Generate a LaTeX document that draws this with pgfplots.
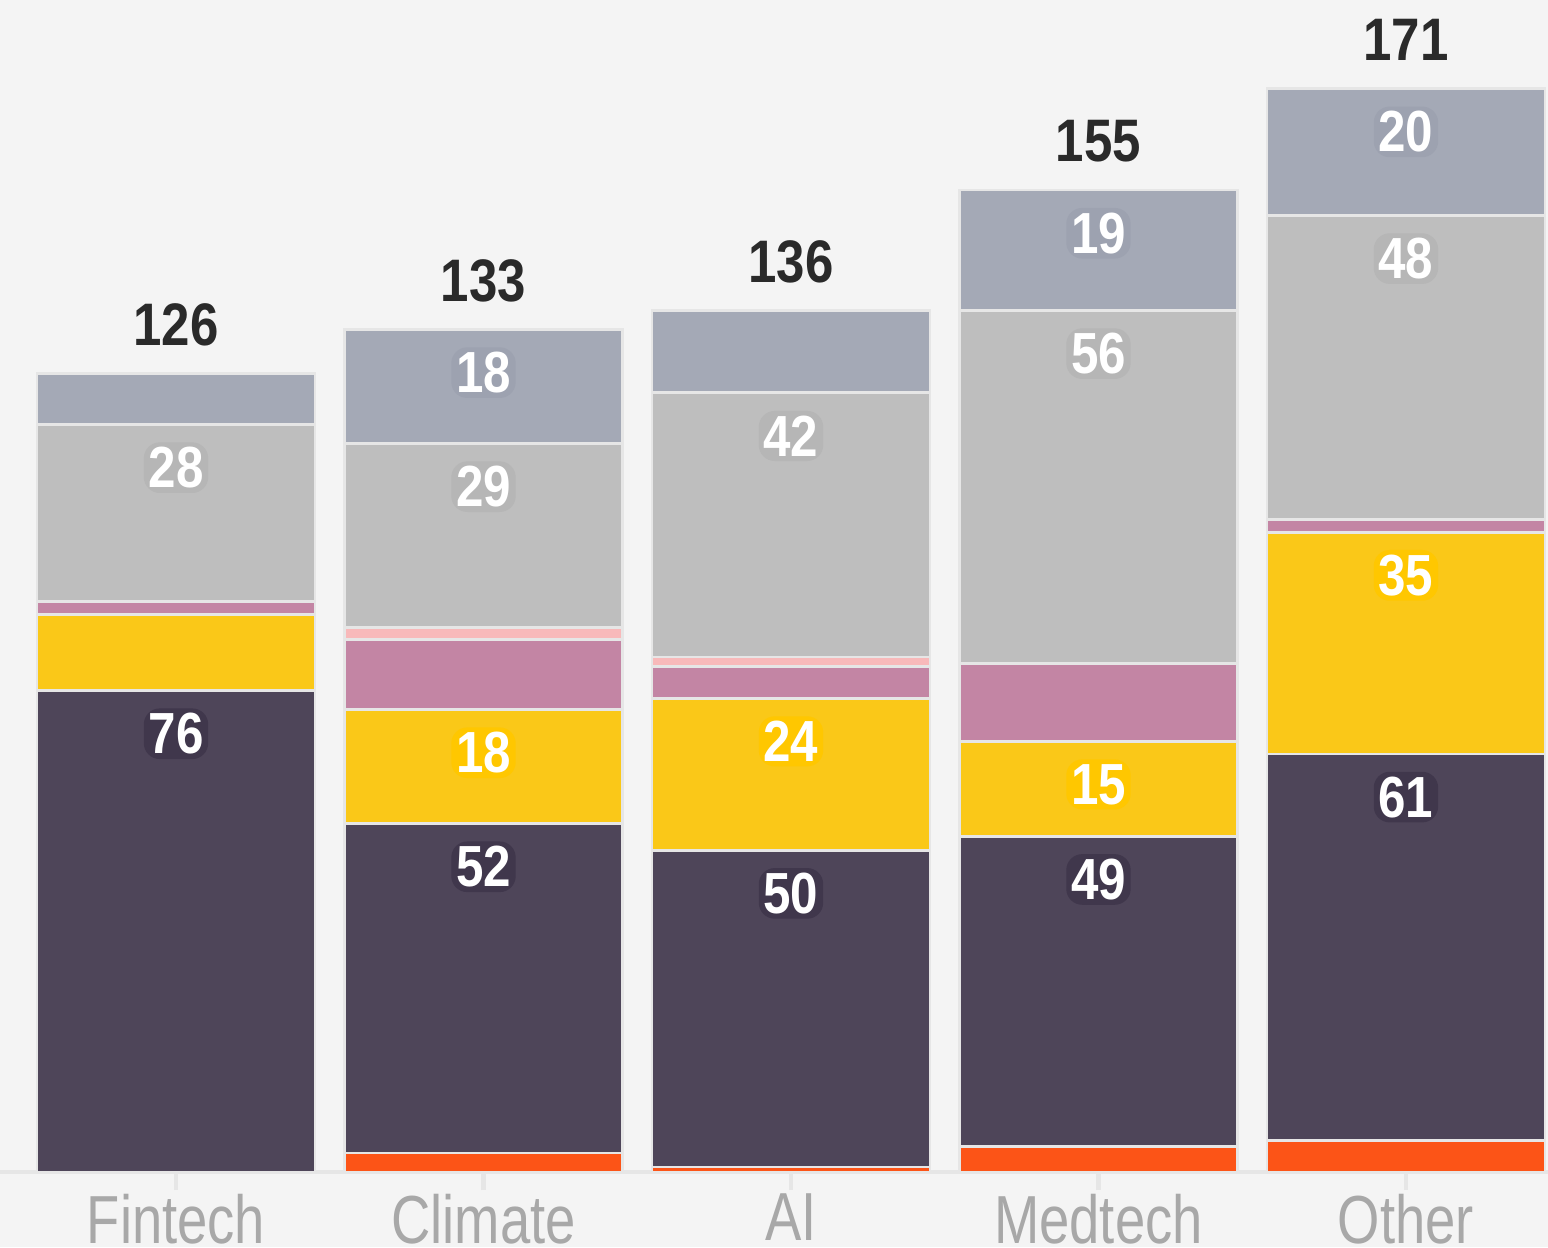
\documentclass[border=0pt]{standalone}
\usepackage{pgfplots}
\pgfplotsset{compat=1.18}
\usepackage{fontspec}
\setmainfont{Liberation Sans}[FakeStretch=0.85]
\newfontfamily\tickfont{Liberation Sans}[FakeStretch=0.8]
\definecolor{bg}{HTML}{F4F4F4}
\definecolor{cOrange}{HTML}{FC5417}
\definecolor{cDark}{HTML}{4E4559}
\definecolor{cYellow}{HTML}{FAC818}
\definecolor{cMauve}{HTML}{C385A4}
\definecolor{cPink}{HTML}{F8B9BA}
\definecolor{cGray}{HTML}{BEBEBE}
\definecolor{cBlue}{HTML}{A4A9B6}
\definecolor{hDark}{HTML}{40374C}
\definecolor{hYellow}{HTML}{FFC700}
\definecolor{hGray}{HTML}{B6B6B6}
\definecolor{hBlue}{HTML}{9DA2B0}
\definecolor{sepline}{HTML}{E6E6E6}
\definecolor{labgray}{HTML}{A8A8A8}
\definecolor{totcol}{HTML}{2A2A2A}

\pgfplotsset{
  frame/.style={at={(0,0)}, anchor=south west,
    scale only axis, width=387pt, height=293pt,
    xmin=-0.5724, xmax=4.462, ymin=0, ymax=185, clip=false},
  seg/.style={fill=#1, draw=sepline, line width=0.7pt},
  lab/.style={only marks, mark=none, nodes near coords, point meta=explicit symbolic,
    every node near coord/.append style={font=\bfseries\fontsize{14.5}{14.5}\selectfont,
      text=white, fill=#1, rounded corners=4pt, inner sep=1.2pt,
      anchor=center, yshift=-10.8pt}},
}

\begin{document}
\begin{tikzpicture}[x=1pt,y=1pt]
\fill[bg] (0,-18.75) rectangle (387,293);
% stacked bars
\begin{axis}[
  frame,
  ybar stacked, bar width=69.5pt,
  axis y line=none, axis x line*=bottom,
  x axis line style={draw=sepline, line width=0.8pt, -},
  xtick={0,1,2,3,4},
  xticklabels={Fintech,Climate,AI,Medtech,Other},
  major tick length=4.5pt, tick align=outside,
  x tick style={draw=sepline, line width=1.2pt},
  xticklabel style={font=\tickfont\fontsize{17}{17}\selectfont, text=labgray, yshift=2.5pt},
]
\addplot[seg=cOrange] coordinates {(0,0) (1,3) (2,0.8) (3,4) (4,5)};
\addplot[seg=cDark]   coordinates {(0,76) (1,52) (2,50) (3,49) (4,61)};
\addplot[seg=cYellow] coordinates {(0,12) (1,18) (2,24) (3,15) (4,35)};
\addplot[seg=cMauve]  coordinates {(0,2) (1,11) (2,5) (3,12.3) (4,2)};
\addplot[seg=cPink]   coordinates {(0,0) (1,2) (2,1.5) (3,0) (4,0)};
\addplot[seg=cGray]   coordinates {(0,28) (1,29) (2,41.7) (3,55.7) (4,48)};
\addplot[seg=cBlue]   coordinates {(0,8) (1,18) (2,13) (3,19) (4,20)};
\end{axis}
% labels at the top of each segment
\begin{axis}[frame, hide axis]
\addplot[lab=hDark]   coordinates {(0,76) [76] (1,55) [52] (2,50.8) [50] (3,53) [49] (4,66) [61]};
\addplot[lab=hYellow] coordinates {(1,73) [18] (2,74.8) [24] (3,68) [15] (4,101) [35]};
\addplot[lab=hGray]   coordinates {(0,118) [28] (1,115) [29] (2,123) [42] (3,136) [56] (4,151) [48]};
\addplot[lab=hBlue]   coordinates {(1,133) [18] (3,155) [19] (4,171) [20]};
\addplot[only marks, mark=none, nodes near coords, point meta=explicit symbolic,
  every node near coord/.append style={font=\bfseries\fontsize{15}{15}\selectfont,
    text=totcol, anchor=center, yshift=12.2pt}]
  coordinates {(0,126) [126] (1,133) [133] (2,136) [136] (3,155) [155] (4,171) [171]};
\end{axis}
\pgfresetboundingbox
\path[use as bounding box] (0,-18.75) rectangle (387,293);
\end{tikzpicture}
\end{document}
